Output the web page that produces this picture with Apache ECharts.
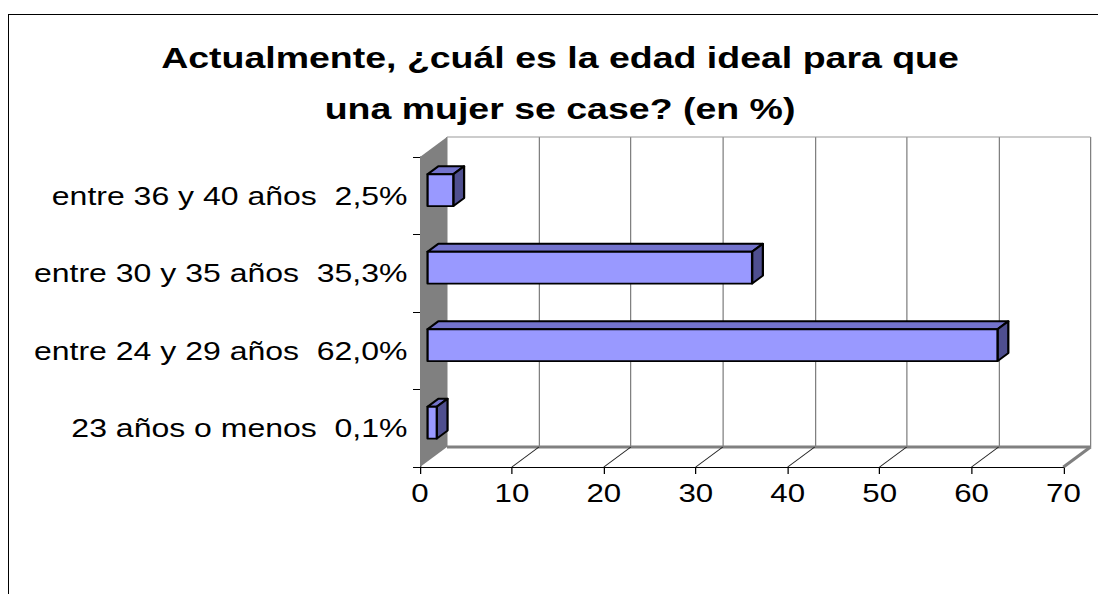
<!DOCTYPE html>
<html>
<head>
<meta charset="utf-8">
<script src="https://cdn.jsdelivr.net/npm/echarts@6/dist/echarts.min.js"></script>
<style>
html, body { margin: 0; padding: 0; background: #fff; }
#frame { position: absolute; left: 8px; top: 14px; right: 0; bottom: 0; border-top: 1px solid #000; border-left: 1px solid #000; }
#main { position: absolute; left: 0; top: 0; width: 878.4px; height: 594px; transform: scaleX(1.25); transform-origin: 0 0; }
</style>
</head>
<body>
<div id="frame"></div>
<div id="main"></div>
<script>
var categories = ['23 años o menos  0,1%', 'entre 24 y 29 años  62,0%', 'entre 30 y 35 años  35,3%', 'entre 36 y 40 años  2,5%'];
var barValues = [1.0, 62.0, 35.3, 2.8];
var xTicks = [0, 10, 20, 30, 40, 50, 60, 70];

// depth of the 3d box (chart units, page is stretched 1.25 wide)
var DX = 21.6;
var DY = -20;

var myChart = echarts.init(document.getElementById('main'), null, { renderer: 'svg' });

var barData = [];
for (var i = 0; i < barValues.length; i++) {
	barData.push([barValues[i], i]);
}

function renderFrame(params, api) {
	var cs = params.coordSys;
	var x = cs.x, y = cs.y, w = cs.width, h = cs.height;
	var children = [];
	// left wall
	children.push({
		type: 'polygon',
		shape: { points: [[x, y], [x, y + h], [x + DX, y + h + DY], [x + DX, y + DY]] },
		style: { fill: '#808080' }
	});
	// back top edge
	children.push({
		type: 'line',
		shape: { x1: x + DX, y1: y + DY, x2: x + w + DX, y2: y + DY },
		style: { stroke: '#9a9a9a', lineWidth: 1 }
	});
	// floor back edge
	children.push({
		type: 'line',
		shape: { x1: x + DX, y1: y + h + DY, x2: x + w + DX, y2: y + h + DY },
		style: { stroke: '#808080', lineWidth: 3 }
	});
	// floor right edge
	children.push({
		type: 'line',
		shape: { x1: x + w, y1: y + h, x2: x + w + DX, y2: y + h + DY },
		style: { stroke: '#808080', lineWidth: 3 }
	});
	// floor diagonals
	for (var k = 1; k < xTicks.length - 1; k++) {
		var p = api.coord([xTicks[k], 0]);
		children.push({
			type: 'line',
			shape: { x1: p[0], y1: y + h, x2: p[0] + DX, y2: y + h + DY },
			style: { stroke: '#222', lineWidth: 1 }
		});
	}
	return { type: 'group', children: children };
}

function renderBar(params, api) {
	var start = api.coord([0, api.value(1)]);
	var end = api.coord([api.value(0), api.value(1)]);
	var hh = api.size([0, 1])[1] * 0.41;
	var fx = DX * 0.28, fy = DY * 0.28;
	var bx = DX * 0.4, by = DY * 0.4;
	var x0 = start[0] + fx, x1 = end[0] + fx;
	var top = start[1] + fy - hh / 2, bottom = start[1] + fy + hh / 2;
	var line = { stroke: '#000', lineWidth: 1.8, lineJoin: 'round' };
	return {
		type: 'group',
		children: [
			{ type: 'polygon', shape: { points: [[x0, top], [x1, top], [x1 + bx, top + by], [x0 + bx, top + by]] }, style: Object.assign({ fill: '#7373CC' }, line) },
			{ type: 'polygon', shape: { points: [[x1, top], [x1, bottom], [x1 + bx, bottom + by], [x1 + bx, top + by]] }, style: Object.assign({ fill: '#4F4F8F' }, line) },
			{ type: 'rect', shape: { x: x0, y: top, width: x1 - x0, height: bottom - top }, style: Object.assign({ fill: '#9999FF' }, line) }
		]
	};
}

option = {
	animation: false,
	title: {
		text: 'Actualmente, ¿cuál es la edad ideal para que\nuna mujer se case? (en %)',
		left: 448,
		top: 32,
		textAlign: 'center',
		padding: 0,
		textStyle: { fontFamily: 'Liberation Sans', fontSize: 30, fontWeight: 'bold', color: '#000', lineHeight: 51 }
	},
	grid: [
		{ left: 336, right: 27.2, top: 157, bottom: 127 },
		{ left: 357.6, right: 5.6, top: 137, bottom: 147 }
	],
	xAxis: [
		{
			type: 'value', gridIndex: 0, min: 0, max: 70, interval: 10,
			axisLine: { show: true, lineStyle: { color: '#000', width: 1 } },
			axisTick: { show: true, length: 7, lineStyle: { color: '#000' } },
			axisLabel: { fontFamily: 'Liberation Sans', fontSize: 25, color: '#000', margin: 14 },
			splitLine: { show: false }
		},
		{
			type: 'value', gridIndex: 1, min: 0, max: 70, interval: 10,
			axisLine: { show: false }, axisTick: { show: false }, axisLabel: { show: false },
			splitLine: { show: true, lineStyle: { color: '#808080', width: 1 } }
		}
	],
	yAxis: [
		{
			type: 'category', gridIndex: 0, data: categories,
			axisLine: { show: true, lineStyle: { color: '#000', width: 1 } },
			axisTick: { show: true, length: 5.6, lineStyle: { color: '#000' } },
			axisLabel: { fontFamily: 'Liberation Sans', fontSize: 25.6, color: '#000', margin: 10 }
		},
		{
			type: 'category', gridIndex: 1, data: categories, show: false
		}
	],
	series: [
		{
			type: 'custom', xAxisIndex: 0, yAxisIndex: 0, z: 1,
			renderItem: renderFrame, data: [[0, 0]], silent: true
		},
		{
			type: 'custom', xAxisIndex: 0, yAxisIndex: 0, z: 5,
			renderItem: renderBar, data: barData
		}
	]
};
myChart.setOption(option);
</script>
</body>
</html>
